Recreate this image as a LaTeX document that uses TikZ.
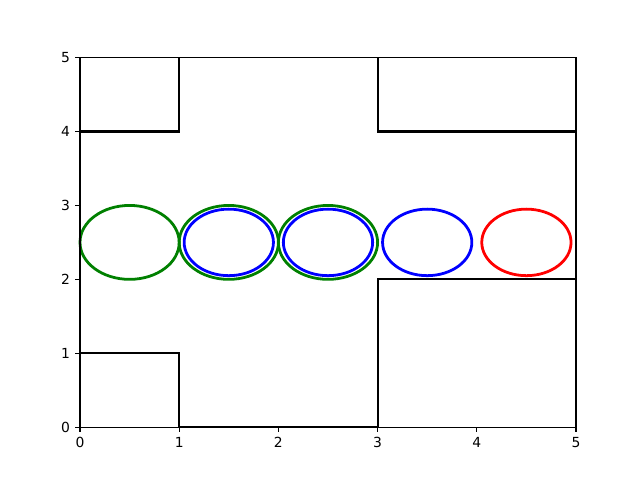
\documentclass[tikz,border=0pt]{standalone}
\usepackage{fontspec}
\setmainfont{DejaVu Sans}
\definecolor{mplgreen}{rgb}{0,0.5,0}
\begin{document}
\begin{tikzpicture}[x=71.424pt,y=53.2224pt,
  wall/.style={black,line width=1.5pt,line join=miter},
  ring/.style={line width=2pt},
  spine/.style={black,line width=0.8pt},
  tick/.style={black,line width=0.8pt},
  ticklab/.style={font=\fontsize{10pt}{12pt}\selectfont,inner sep=0pt}]
\useasboundingbox (-57.6pt,-38.016pt) rectangle (403.2pt,307.584pt);
% walls
\draw[wall] (0,4) -- (1,4) -- (1,5);
\draw[wall] (3,5) -- (3,4) -- (5,4) -- (5,2) -- (3,2) -- (3,0) -- (1,0) -- (1,1) -- (0,1);
% circles
\draw[ring,mplgreen] (0.5,2.5) ellipse [x radius=0.5,y radius=0.5];
\draw[ring,mplgreen] (1.5,2.5) ellipse [x radius=0.5,y radius=0.5];
\draw[ring,mplgreen] (2.5,2.5) ellipse [x radius=0.5,y radius=0.5];
\draw[ring,blue] (1.5,2.5) ellipse [x radius=0.45,y radius=0.45];
\draw[ring,blue] (2.5,2.5) ellipse [x radius=0.45,y radius=0.45];
\draw[ring,blue] (3.5,2.5) ellipse [x radius=0.45,y radius=0.45];
\draw[ring,red] (4.5,2.5) ellipse [x radius=0.45,y radius=0.45];
% spines
\draw[spine] (0,0) rectangle (5,5);
% ticks
\foreach \i in {0,...,5} {
  \draw[tick] (\i,0) -- ++(0,-3.5pt);
  \node[ticklab,anchor=north] (xl\i) at ([yshift=-7pt]\i,0) {\i};
  \draw[tick] (0,\i) -- ++(-3.5pt,0);
  \node[ticklab,anchor=east] (yl\i) at ([xshift=-7pt]0,\i) {\i};
}
\end{tikzpicture}
\end{document}
